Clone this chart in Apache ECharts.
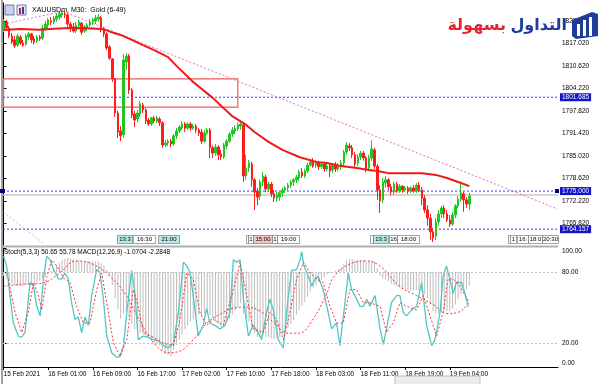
<!DOCTYPE html>
<html><head><meta charset="utf-8">
<script src="https://cdn.jsdelivr.net/npm/echarts@6/dist/echarts.min.js"></script>
<style>html,body{margin:0;padding:0;background:#fff}#c{width:600px;height:384px}</style>
</head><body><div id="c"></div>
<script>
// ---------- DATA ----------
const opens = [
1820.8,1823.1,1821.4,1819.1,1818.0,1816.5,1818.8,1817.1,1816.8,1818.8,
1819.7,1818.3,1817.7,1818.8,1818.5,1821.1,1822.2,1823.4,1823.1,1823.9,
1824.5,1825.1,1825.4,1825.1,1822.5,1821.7,1820.5,1822.0,1822.8,1820.5,
1821.4,1822.2,1823.1,1823.4,1823.9,1824.2,1821.1,1819.7,1816.0,1812.6,
1806.9,1797.2,1792.1,1791.0,1811.7,1813.4,1803.7,1796.9,1795.5,1796.9,
1799.5,1798.1,1795.2,1794.1,1795.8,1794.9,1795.5,1794.4,1788.1,1788.7,
1789.2,1788.4,1790.7,1792.1,1792.9,1794.1,1792.9,1794.1,1792.9,1793.5,
1792.4,1791.8,1789.2,1791.5,1792.4,1787.3,1785.8,1787.5,1785.5,1784.7,
1787.8,1789.2,1791.2,1792.1,1792.7,1793.5,1793.8,1779.3,1781.6,1782.7,
1778.2,1775.0,1773.6,1777.6,1779.0,1775.6,1777.0,1774.2,1773.0,1773.3,
1774.5,1775.3,1775.9,1776.7,1777.6,1778.2,1778.7,1780.4,1779.3,1780.7,
1782.4,1783.3,1782.4,1783.0,1781.9,1782.7,1781.3,1782.1,1781.0,1782.4,
1781.3,1782.1,1783.0,1786.1,1787.8,1787.3,1785.3,1783.0,1784.7,1785.8,
1784.4,1781.6,1784.4,1786.7,1782.1,1775.3,1772.5,1777.3,1778.2,1776.2,
1774.7,1777.0,1775.0,1776.4,1775.3,1775.9,1775.0,1775.9,1775.0,1776.7,
1775.3,1773.0,1769.6,1767.3,1763.4,1762.2,1766.2,1768.5,1770.2,1768.5,
1766.8,1765.6,1768.2,1770.8,1772.7,1774.2,1772.5,1771.3];
const closes = [
1823.1,1821.4,1819.1,1817.4,1816.3,1819.1,1817.1,1816.5,1819.1,1819.7,
1818.0,1817.4,1818.8,1818.3,1821.4,1822.5,1823.7,1823.1,1824.2,1824.8,
1825.4,1825.6,1825.1,1822.5,1821.4,1820.5,1822.2,1823.1,1820.2,1821.7,
1822.2,1823.1,1823.7,1824.2,1824.5,1821.1,1819.7,1815.7,1812.8,1806.9,
1797.2,1791.8,1790.7,1812.3,1813.4,1803.7,1796.6,1795.2,1797.2,1799.8,
1798.1,1794.9,1794.1,1795.8,1794.9,1795.8,1794.4,1788.1,1788.7,1789.2,
1788.4,1790.7,1792.1,1793.2,1794.1,1792.9,1794.1,1792.9,1793.5,1792.4,
1791.5,1789.2,1791.5,1792.4,1787.3,1785.8,1787.5,1785.3,1784.7,1788.1,
1789.2,1791.2,1792.4,1792.9,1793.8,1794.1,1779.3,1781.6,1783.0,1778.2,
1774.7,1773.3,1777.6,1779.3,1775.6,1777.0,1774.2,1773.0,1773.9,1774.5,
1775.3,1775.9,1776.7,1777.6,1778.2,1779.0,1780.4,1779.3,1780.7,1782.4,
1783.3,1782.1,1783.0,1781.9,1782.7,1781.3,1782.1,1780.7,1782.4,1781.3,
1782.1,1783.0,1786.1,1788.1,1787.3,1785.3,1782.7,1784.7,1785.8,1784.4,
1781.3,1784.4,1787.0,1782.1,1775.3,1772.2,1777.6,1778.2,1776.2,1774.7,
1777.0,1775.0,1776.4,1775.3,1775.9,1775.0,1775.9,1775.0,1776.7,1775.3,
1773.0,1769.6,1767.3,1763.4,1761.7,1766.2,1768.5,1770.2,1768.5,1766.8,
1765.6,1768.2,1770.8,1772.7,1774.5,1772.5,1771.3,1773.6];
const lows = [
1820.2,1820.8,1818.5,1816.8,1815.7,1816.0,1816.5,1816.0,1816.3,1818.0,
1817.1,1816.8,1817.1,1817.7,1818.0,1820.5,1821.4,1822.2,1822.5,1823.1,
1823.7,1824.2,1824.2,1821.7,1820.2,1820.0,1820.0,1821.4,1819.4,1820.0,
1820.5,1821.7,1822.2,1822.5,1823.1,1820.2,1818.8,1815.1,1812.3,1806.0,
1796.1,1790.1,1789.2,1790.1,1809.4,1802.6,1795.8,1793.2,1794.6,1796.1,
1797.2,1794.1,1793.5,1793.5,1794.4,1794.4,1793.5,1787.3,1787.5,1787.8,
1787.5,1787.8,1789.8,1791.5,1792.4,1791.8,1792.4,1792.1,1792.4,1791.5,
1790.7,1788.4,1788.7,1791.0,1784.4,1784.4,1785.0,1783.8,1783.8,1784.1,
1787.0,1788.7,1790.4,1791.2,1792.1,1792.4,1777.6,1778.2,1780.4,1776.2,
1769.6,1771.0,1772.5,1776.4,1774.7,1774.7,1773.3,1771.9,1771.9,1772.2,
1773.3,1774.5,1775.0,1775.9,1776.4,1777.3,1777.9,1778.7,1778.7,1780.1,
1781.9,1781.6,1781.6,1781.0,1781.3,1780.4,1780.7,1779.0,1780.1,1780.4,
1780.7,1781.0,1782.1,1785.3,1786.4,1784.4,1781.9,1782.1,1783.8,1783.6,
1780.4,1780.7,1783.6,1781.3,1772.5,1768.8,1771.6,1775.9,1775.3,1773.9,
1773.9,1774.5,1774.5,1774.5,1774.7,1774.2,1774.5,1774.5,1774.5,1774.7,
1771.0,1768.8,1765.1,1761.1,1760.5,1761.1,1765.1,1767.3,1767.3,1766.2,
1764.8,1765.1,1767.3,1770.2,1771.9,1769.1,1770.2,1769.6];
const highs = [
1823.9,1823.7,1822.0,1820.0,1819.1,1819.7,1819.4,1818.0,1819.7,1820.2,
1820.0,1819.1,1819.4,1819.4,1822.2,1823.4,1824.2,1824.5,1824.8,1825.6,
1825.9,1826.5,1826.2,1825.6,1823.1,1822.8,1823.1,1823.7,1823.1,1822.2,
1822.8,1823.9,1824.2,1825.1,1825.4,1824.8,1821.7,1820.2,1816.5,1812.8,
1807.2,1797.8,1793.5,1814.0,1814.3,1814.0,1804.3,1797.8,1798.1,1800.6,
1800.1,1798.6,1795.8,1796.1,1796.4,1796.4,1796.1,1794.9,1789.5,1789.8,
1789.8,1791.2,1792.9,1793.8,1794.9,1794.6,1794.6,1794.6,1794.1,1794.1,
1792.9,1792.7,1792.4,1792.9,1792.9,1788.1,1788.4,1788.1,1786.7,1788.7,
1789.8,1791.8,1793.2,1793.8,1794.6,1794.6,1794.1,1785.3,1783.8,1783.3,
1778.7,1775.9,1778.2,1780.4,1779.6,1777.6,1777.6,1775.3,1774.7,1775.0,
1775.9,1776.4,1777.3,1778.2,1778.7,1779.6,1781.0,1781.6,1781.3,1783.0,
1784.1,1784.4,1783.8,1783.6,1783.3,1783.3,1783.0,1782.7,1783.0,1783.3,
1783.0,1783.8,1786.7,1789.0,1788.7,1788.1,1786.1,1785.5,1786.4,1786.4,
1785.0,1785.3,1789.5,1787.3,1782.7,1776.7,1778.7,1779.3,1778.7,1777.0,
1777.6,1777.6,1777.0,1776.7,1776.4,1776.4,1776.4,1776.7,1777.3,1777.6,
1776.2,1773.9,1771.0,1768.5,1764.5,1767.3,1769.6,1770.8,1771.0,1769.6,
1768.2,1769.1,1771.3,1773.6,1777.6,1774.7,1773.3,1774.5];

// moving average, read at sample bars [barIndex, price]
const maLine = [[0,1820.8],[6,1821.1],[13,1820.9],[18,1821.2],[24,1821.4],[30,1821.3],[35,1821.1],[37,1820.7],
[39,1820.1],[42,1819.4],[44,1818.7],[46,1818.0],[50,1816.5],[54,1815.1],[59,1813.1],[62,1810.6],[68,1806.0],
[75,1801.5],[82,1796.3],[87,1793.8],[90,1791.8],[95,1789.0],[100,1786.7],[106,1784.7],[112,1783.3],[116,1783.0],
[121,1782.1],[126,1781.6],[131,1781.0],[134,1780.7],[138,1780.1],[143,1780.1],[150,1780.1],[155,1779.6],
[159,1778.7],[164,1777.3],[167,1776.4]];

const priceTicks = [1765.82,1772.22,1778.62,1785.02,1791.42,1797.82,1804.22,1810.62,1817.02,1823.42];
const levelPrices = [1801.685, 1775.000, 1764.157];
const bidPrice = 1773.9;
const trendUp = [[0,1822.5],[21.3,1826.1]];
const trendDown = [[21.3,1826.1],[198.7,1769.9]];
const trendGreen = [[0,1769.0],[14.5,1760.0]];
const zoneBox = {x0:0, x1:84, top:1806.9, bottom:1798.9};

const timeTickIdx = [0,16,32,48,64,80,96,112,128,144,160];
const timeTickLabels = ['15 Feb 2021','16 Feb 01:00','16 Feb 09:00','16 Feb 17:00','17 Feb 02:00','17 Feb 10:00',
'17 Feb 18:00','18 Feb 03:00','18 Feb 11:00','18 Feb 19:00','19 Feb 04:00'];

const stochK = [[0,93],[1.1,85],[2.3,60],[3.5,37],[5.3,26],[6.5,25],[7.7,29],[9.5,71],[10.7,68],[11.9,51],[13.1,43],
[14.3,74],[15.5,93],[16.7,90],[17.9,82],[19.7,74],[20.8,74],[22,79],[23.2,74],[24.4,54],[25.6,40],[26.8,42],[28,29],
[29.2,42],[30.4,35],[31.6,60],[33.4,82],[34.6,79],[35.8,57],[37,26],[38.8,12],[40.6,8],[41.8,9],[43,18],[44.2,46],
[45.9,81],[47.1,62],[48.3,23],[50.1,26],[51.9,25],[53.7,23],[55.5,22],[57.3,18],[59.1,16],[60.9,20],[62.7,46],
[64.5,88],[65.7,85],[66.9,79],[68,60],[69.8,26],[71.6,35],[72.8,49],[74,37],[75.8,35],[77.6,32],[79.4,35],[81.2,46],
[82.4,90],[83.6,88],[84.8,90],[86,57],[87.8,26],[89.5,35],[91.3,29],[92.5,23],[94.3,46],[95.5,57],[96.7,48],[98.5,23],
[100.3,16],[102.1,60],[103.3,81],[105.1,82],[106.3,90],[106.9,97],[107.7,85],[109.3,76],[110.5,68],[111.7,74],
[112.8,76],[114.6,65],[116.4,46],[117.6,32],[119.4,37],[120.6,18],[122.4,54],[123.6,79],[124.8,65],[126,60],
[127.8,51],[129,51],[130.2,57],[131.4,51],[133.2,60],[135,32],[136.2,19],[137.3,32],[139.1,54],[140.9,60],[142.1,60],
[143.3,46],[144.5,43],[146.3,48],[148.1,51],[149.9,71],[151.7,35],[153.5,18],[154.7,23],[156.5,46],[157.6,76],
[158.8,85],[160,74],[161.2,62],[162.4,71],[164.2,71],[165.4,62],[166.6,50.65]];
const stochD = [[1.7,74],[4.1,46],[6.5,29],[8.9,46],[10.7,71],[12.5,60],[13.7,48],[15.5,76],[17.3,90],[19.1,85],
[21.4,75],[23.8,71],[26.2,51],[28.6,37],[31,37],[33.4,65],[35.2,79],[37,54],[39.4,20],[41.8,9],[44.2,23],[46.5,65],
[48.3,51],[50.1,29],[53.7,25],[57.3,20],[60.9,18],[63.3,40],[65.7,79],[68,74],[70.4,46],[72.8,35],[75.2,40],
[78.8,35],[82.4,65],[84.8,88],[87.2,60],[89.5,32],[93.1,29],[95.5,46],[97.9,40],[100.3,23],[102.7,46],[105.1,74],
[107.5,88],[109.9,79],[112.3,74],[114.6,71],[117,51],[119.4,37],[121.8,37],[124.2,65],[126.6,65],[129,54],
[131.4,54],[135,51],[137.3,29],[139.7,37],[142.1,54],[144.5,51],[148.1,48],[150.5,60],[152.9,43],[155.3,26],
[157.6,46],[159.4,74],[161.2,74],[163.6,68],[166.6,55.78]];
const stochLevels = [20, 80];

const macdHist = [
-0.3,-0.5,-0.7,-0.9,-1.0,-1.1,-1.1,-1.1,-1.0,-1.0,-0.9,-0.9,-0.8,-0.7,-0.5,-0.3,-0.1,0.1,
0.3,0.5,0.7,0.9,1.0,1.1,1.1,1.0,0.9,0.9,0.8,0.8,0.8,0.8,0.8,0.8,0.8,0.7,0.5,
0.2,-0.3,-1.0,-2.0,-2.9,-3.6,-3.2,-3.1,-3.5,-4.0,-4.4,-4.6,-4.7,-4.8,
-4.9,-5.1,-5.3,-5.5,-5.6,-5.7,-6.0,-6.3,-6.4,-6.5,
-6.0,-5.6,-5.2,-4.8,-4.4,-4.1,-3.8,-3.6,-3.4,-3.3,-3.3,-3.2,-3.1,
-3.3,-3.6,-3.8,-4.0,-4.2,-4.1,-3.9,-3.6,-3.3,-3.0,-2.7,-2.4,
-3.2,-3.6,-3.8,-4.2,-4.7,-5.0,-5.0,-4.9,-5.0,-5.0,-5.1,-5.2,-5.1,-5.0,-4.8,-4.6,
-4.3,-4.0,-3.7,-3.3,-2.9,-2.6,-2.3,-1.9,-1.5,-1.2,-1.0,-0.8,
-0.6,-0.4,-0.2,-0.1,0.0,0.1,0.2,0.3,
0.6,0.9,1.0,1.0,0.9,0.9,0.9,0.9,0.8,0.8,0.9,0.8,
0.3,-0.3,-0.5,-0.6,-0.7,-0.9,-1.0,
-1.1,-1.2,-1.3,-1.3,-1.4,-1.4,-1.4,-1.4,-1.4,-1.5,
-1.7,-2.0,-2.5,-3.0,-3.2,-3.2,-3.1,-3.0,-3.0,-3.0,
-2.8,-2.5,-2.1,-1.7,-1.5,-1.3,-1.0704];
const macdSignal = [[0,-1.1],[6,-0.95],[14,-0.85],[20,-0.1],[26,0.85],[32,0.6],[38,-0.3],[44,-1.8],[49,-3.8],
[54,-5.5],[59,-6.2],[63,-6.1],[68,-5.2],[73,-3.9],[78,-3.2],[82,-2.8],[87,-2.7],[92,-3.0],[97,-3.9],[102,-4.7],
[106,-4.7],[111,-3.6],[116,-1.6],[118,-0.5],[123,0.5],[130,0.85],[135,0.45],[142,-1.1],[148,-1.8],[154,-2.5],
[159,-3.2],[163,-3.1],[166,-2.6],[167,-2.2848]];

// ---------- CHART ----------
const chart = echarts.init(document.getElementById('c'), null, {renderer:'canvas'});
const FONT = 'Liberation Sans';
const candles = opens.map((o,i)=>[i,o,closes[i],lows[i],highs[i]]);
const histData = macdHist.map((v,i)=>[i,v]);
const X0 = -0.2, X1 = 198.8;

const tags = [
 {x:117,w:15,t:'13:3',bg:'#b8e8e8'},{x:133,w:22,t:'16:30',bg:'#ffffff'},{x:158,w:21,t:'21:00',bg:'#b8e8e8'},
 {x:246,w:2,t:'',bg:'#fff'},{x:248,w:5,t:'1',bg:'#fff'},{x:253,w:19,t:'15:00',bg:'#f6c4c4'},{x:272,w:5,t:'1',bg:'#fff'},
 {x:277,w:22,t:'19:00',bg:'#fff'},{x:370,w:3,t:'',bg:'#fff'},{x:373,w:15,t:'13:3',bg:'#b8e8e8'},{x:389,w:8,t:'16',bg:'#fff'},
 {x:397,w:22,t:'18:00',bg:'#fff'},{x:508,w:2,t:'',bg:'#fff'},{x:510,w:6,t:'1',bg:'#fff'},{x:517,w:11,t:'16:',bg:'#fff'},
 {x:528,w:14,t:'18:0',bg:'#fff'},{x:542,w:16,t:'20:30',bg:'#fff'}
];
const graphics = [];
tags.forEach(g=>{
  graphics.push({type:'rect',shape:{x:g.x+0.5,y:235.5,width:g.w,height:8},style:{fill:g.bg,stroke:'#666',lineWidth:0.6},z:50});
  if(g.t) graphics.push({type:'text',x:g.x+g.w/2+0.5,y:239.5,style:{text:g.t,fill:'#000',font:'6px '+FONT,textAlign:'center',textVerticalAlign:'middle'},z:51});
});
// frame & separators
graphics.push({type:'line',shape:{x1:2,y1:0,x2:2,y2:384},style:{stroke:'#808080',lineWidth:1.5},z:40});
graphics.push({type:'line',shape:{x1:2,y1:246.5,x2:558,y2:246.5},style:{stroke:'#b0b0b0',lineWidth:2},z:40});
graphics.push({type:'rect',shape:{x:395,y:376,width:85,height:9},style:{fill:'#ececec',stroke:'#c0c0c0',lineWidth:1},z:40});
graphics.push({type:'rect',shape:{x:0,y:189,width:5,height:4},style:{fill:'#000080'},z:45});
graphics.push({type:'rect',shape:{x:555,y:189,width:4,height:4},style:{fill:'#000080'},z:45});
// header
graphics.push({type:'rect',shape:{x:5,y:5,width:9,height:10},style:{fill:'#c8d0f0',stroke:'#506090',lineWidth:0.8},z:45});
graphics.push({type:'rect',shape:{x:17,y:5,width:9,height:10},style:{fill:'#e8e8f8',stroke:'#506090',lineWidth:0.8},z:45});
graphics.push({type:'rect',shape:{x:19,y:8,width:2,height:6},style:{fill:'#d02020'},z:46});
graphics.push({type:'rect',shape:{x:22,y:7,width:2,height:7},style:{fill:'#2040c0'},z:46});
graphics.push({type:'text',x:32,y:10,style:{text:'XAUUSDm, M30:  Gold (6-49)',fill:'#000',font:'7px '+FONT,textVerticalAlign:'middle'},z:45});
graphics.push({type:'text',x:4,y:252,style:{text:'Stoch(5,3,3) 50.65 55.78 MACD(12,26,9) -1.0704 -2.2848',fill:'#000',font:'6.5px '+FONT,textVerticalAlign:'middle'},z:45});
// logo
graphics.push({type:'text',x:567,y:26,style:{text:'التداول',fill:'#1f3c9a',font:'bold 16px "DejaVu Sans"',textAlign:'right',textVerticalAlign:'middle'},z:60});
graphics.push({type:'text',x:506,y:26,style:{text:'بسهولة',fill:'#e3262d',font:'bold 16px "DejaVu Sans"',textAlign:'right',textVerticalAlign:'middle'},z:60});
graphics.push({type:'polygon',shape:{points:[[572,20],[592,12],[598,14],[598,36],[576,39],[572,36]]},style:{fill:'#1f3c9a'},z:60});
graphics.push({type:'rect',shape:{x:577,y:24,width:3,height:12},style:{fill:'#fff'},z:61});
graphics.push({type:'rect',shape:{x:583,y:20,width:3,height:16},style:{fill:'#fff'},z:61});
graphics.push({type:'rect',shape:{x:589,y:17,width:3,height:19},style:{fill:'#fff'},z:61});

const labelFont = {fontFamily:FONT,fontSize:6.5,color:'#000'};

const levelSeries = levelPrices.map(p=>({
  type:'line',xAxisIndex:0,yAxisIndex:0,data:[[X0,p],[X1,p]],symbol:'none',silent:true,
  lineStyle:{color:'#3a3aff',width:1,type:[2,2]},z:2,
  endLabel:{show:true,formatter:p.toFixed(3),distance:2,color:'#fff',backgroundColor:'#1414c8',
    padding:[1,2,0,2],fontFamily:FONT,fontSize:6.5}
}));

chart.setOption({
  animation:false,
  backgroundColor:'#ffffff',
  grid:[
    {left:3,right:42,top:3,height:242},
    {left:3,right:42,top:248,height:119}
  ],
  xAxis:[
    {type:'value',gridIndex:0,min:X0,max:X1,show:true,axisLine:{show:false},axisTick:{show:false},axisLabel:{show:false},splitLine:{show:false}},
    {type:'value',gridIndex:1,min:X0,max:X1,
     axisLine:{show:true,onZero:false,lineStyle:{color:'#000',width:1}},
     axisTick:{show:true,length:3,customValues:timeTickIdx,lineStyle:{color:'#000'}},
     axisLabel:Object.assign({customValues:timeTickIdx,align:'left',margin:4,
       formatter:v=>{const k=timeTickIdx.indexOf(v);return k>=0?timeTickLabels[k]:'';}},labelFont),
     splitLine:{show:false}}
  ],
  yAxis:[
    {type:'value',gridIndex:0,position:'right',min:1759.66,max:1828.49,
     axisLine:{show:true,lineStyle:{color:'#000'}},
     axisTick:{show:true,length:3,customValues:priceTicks,lineStyle:{color:'#000'}},
     axisLabel:Object.assign({customValues:priceTicks,margin:4,formatter:v=>v.toFixed(3)},labelFont),
     splitLine:{show:false}},
    {type:'value',gridIndex:1,position:'right',min:0,max:100,
     axisLine:{show:true,lineStyle:{color:'#000'}},
     axisTick:{show:true,length:3,customValues:[0,20,80,100],lineStyle:{color:'#000'}},
     axisLabel:Object.assign({customValues:[0,20,80,100],margin:4,formatter:v=>v.toFixed(2),
       verticalAlignMinLabel:'bottom',verticalAlignMaxLabel:'top'},labelFont),
     splitLine:{show:false}},
    {type:'value',gridIndex:1,min:-7.3,max:1.845,show:false,splitLine:{show:false}}
  ],
  series:[
    {type:'candlestick',xAxisIndex:0,yAxisIndex:0,data:candles,encode:{x:0,y:[1,2,3,4]},barWidth:2,
     itemStyle:{color:'#22c522',color0:'#ff1c1c',borderColor:'#22c522',borderColor0:'#ff1c1c',borderWidth:1},
     markArea:{silent:true,itemStyle:{color:'rgba(0,0,0,0)',borderColor:'#ee5a5a',borderWidth:1.2},
       data:[[{coord:[zoneBox.x0,zoneBox.top]},{coord:[zoneBox.x1,zoneBox.bottom]}]]},
     z:3},
    {type:'line',xAxisIndex:0,yAxisIndex:0,data:[[X0,bidPrice],[X1,bidPrice]],symbol:'none',silent:true,
     lineStyle:{color:'#c8c8c8',width:1.5},z:1},
    ...levelSeries,
    {type:'line',xAxisIndex:0,yAxisIndex:0,data:maLine,showSymbol:false,symbol:'none',lineStyle:{color:'#f01818',width:2},z:4},
    {type:'line',xAxisIndex:0,yAxisIndex:0,data:trendUp,symbol:'none',lineStyle:{color:'#e070c8',width:1,type:[2,2]},z:2},
    {type:'line',xAxisIndex:0,yAxisIndex:0,data:trendDown,symbol:'none',lineStyle:{color:'#e070c8',width:1,type:[2,2]},z:2},
    {type:'line',xAxisIndex:0,yAxisIndex:0,data:trendGreen,symbol:'none',lineStyle:{color:'#90e090',width:1,type:[2,2]},z:2},
    {type:'bar',xAxisIndex:1,yAxisIndex:2,data:histData,barWidth:1,itemStyle:{color:'#bcbcbc'},z:1},
    {type:'line',xAxisIndex:1,yAxisIndex:2,data:macdSignal,symbol:'none',smooth:0.4,lineStyle:{color:'#ff3030',width:1,type:[2,2]},z:3},
    {type:'line',xAxisIndex:1,yAxisIndex:1,data:stochK,symbol:'none',lineStyle:{color:'#52c6c6',width:1.3},z:4,
     markLine:{silent:true,symbol:['none','none'],label:{show:false},
       data:stochLevels.map(v=>({yAxis:v})),lineStyle:{color:'#c0c0c0',type:[2,2],width:1}}},
    {type:'line',xAxisIndex:1,yAxisIndex:1,data:stochD,symbol:'none',lineStyle:{color:'#ff3030',width:1,type:[2,2]},z:5}
  ],
  graphic:graphics
});
</script></body></html>
